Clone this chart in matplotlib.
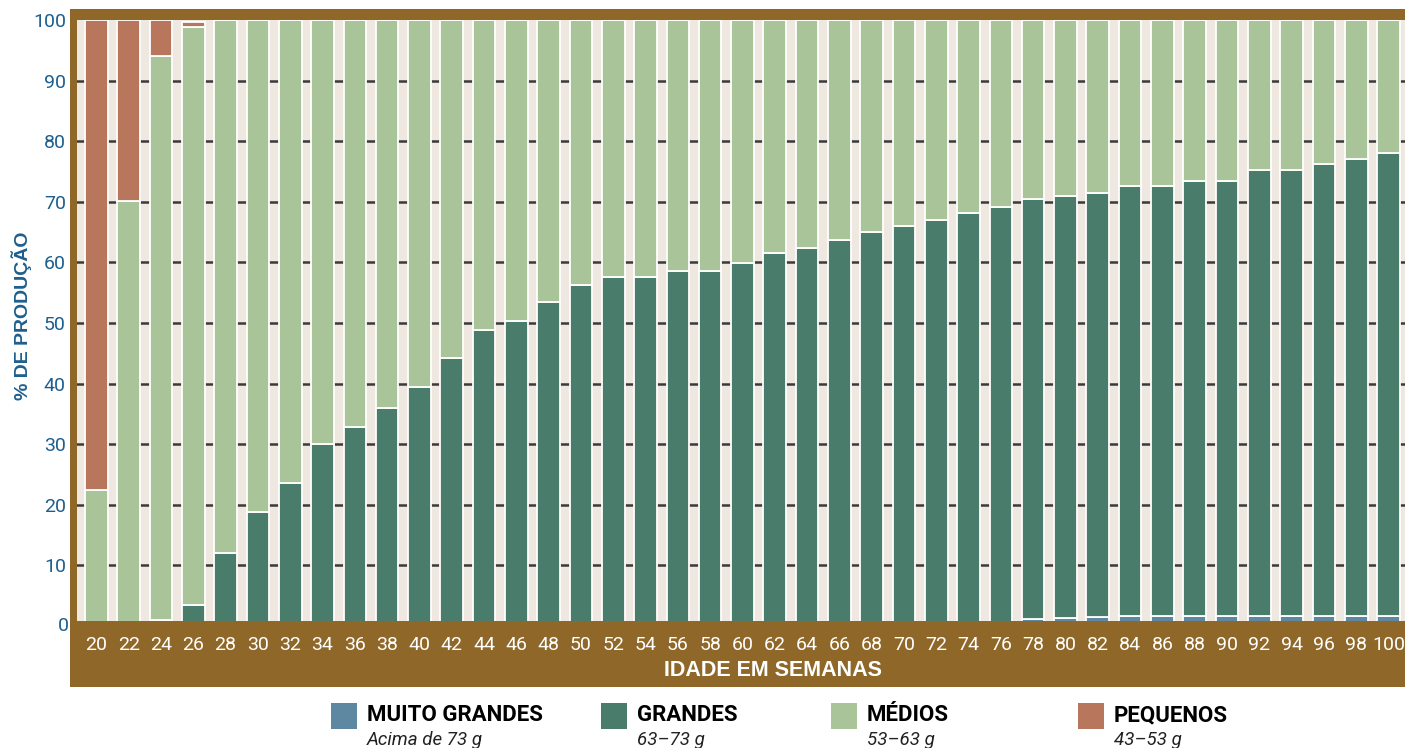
import matplotlib
matplotlib.use("Agg")
import matplotlib.pyplot as plt
from matplotlib.patches import Rectangle
from matplotlib import font_manager

names = {f.name for f in font_manager.fontManager.ttflist}
NARROW = 'Liberation Sans Narrow' if 'Liberation Sans Narrow' in names else 'Roboto'
BOLD = 'Liberation Sans'

weeks = [20, 22, 24, 26, 28, 30, 32, 34, 36, 38, 40, 42, 44, 46, 48, 50, 52, 54, 56, 58,
         60, 62, 64, 66, 68, 70, 72, 74, 76, 78, 80, 82, 84, 86, 88, 90, 92, 94, 96, 98, 100]
muito_grandes = [0]*29 + [1.1, 1.3, 1.5, 1.7, 1.7, 1.7, 1.7, 1.7, 1.7, 1.7, 1.7, 1.7]
grandes = [0, 0, 1.0, 3.4, 12.0, 18.8, 23.6, 30.0, 32.8, 36.0, 39.4, 44.2, 48.8, 50.3, 53.5,
           56.3, 57.6, 57.6, 58.6, 58.6, 59.9, 61.6, 62.4, 63.7, 65.0, 66.0, 67.0, 68.2, 69.1,
           69.4, 69.7, 70.0, 70.9, 70.9, 71.7, 71.7, 73.5, 73.5, 74.5, 75.4, 76.4]
medios = [22.4, 70.1, 93.0, 95.5, 88.0, 81.2, 76.4, 70.0, 67.2, 64.0, 60.6, 55.8, 51.2, 49.7,
          46.5, 43.7, 42.4, 42.4, 41.4, 41.4, 40.1, 38.4, 37.6, 36.3, 35.0, 34.0, 33.0, 31.8,
          30.9, 29.5, 29.0, 28.5, 27.4, 27.4, 26.6, 26.6, 24.8, 24.8, 23.8, 22.9, 21.9]
pequenos = [77.6, 29.9, 6.0, 0.7] + [0]*37

series_names = ['MUITO GRANDES', 'GRANDES', 'MÉDIOS', 'PEQUENOS']
series_sub = ['Acima de 73 g', '63–73 g', '53–63 g', '43–53 g']
colors = ['#5E87A2', '#4A7C6C', '#A8C498', '#B8775C']
yticks = [10, 20, 30, 40, 50, 60, 70, 80, 90, 100]

W, H = 1405, 748
fig = plt.figure(figsize=(W/100, H/100), dpi=100)
fig.patch.set_facecolor('white')

def fx(px):
    return px / W

def fy(py):
    return 1 - py / H

BROWN = '#8F6829'
BLUE = '#1D5F8E'

# brown frame
for (x0, y0, x1, y1) in [(70, 9, 1405, 20), (70, 9, 77, 687), (70, 621, 1405, 687)]:
    fig.patches.append(Rectangle((fx(x0), fy(y1)), fx(x1) - fx(x0), fy(y0) - fy(y1),
                                 transform=fig.transFigure, facecolor=BROWN,
                                 edgecolor='none', zorder=-5))

ax = fig.add_axes([fx(77), fy(621), fx(1405) - fx(77), fy(20) - fy(621)])
ax.set_facecolor('#EEE8E0')
for s in ax.spines.values():
    s.set_visible(False)

x = list(range(len(weeks)))
ax.set_xlim(-0.60, 40.51)
ax.set_ylim(0.83, 100)

for v in yticks[:-1]:
    ax.axhline(v, color='#3A3A3A', lw=1.8, zorder=1)

bottom = [0.0]*len(weeks)
for vals, col in zip([muito_grandes, grandes, medios, pequenos], colors):
    ax.bar(x, vals, width=0.70, bottom=bottom, color=col, edgecolor='white',
           linewidth=1.3, zorder=2)
    bottom = [b + v for b, v in zip(bottom, vals)]

ax.set_xticks(x)
ax.set_xticklabels([str(w) for w in weeks], color='white', fontsize=14, family=NARROW)
ax.tick_params(axis='x', length=0, pad=11)
ax.set_yticks(yticks)
ax.set_yticklabels([str(v) for v in yticks], color=BLUE, fontsize=14, family=NARROW)
ax.tick_params(axis='y', length=0, pad=8)
ax.text(-0.60 - 8/32.3, 0, '0', color=BLUE, fontsize=14, family=NARROW,
        ha='right', va='center', clip_on=False)

fig.text(fx(22), fy(316), '% DE PRODUÇÃO', rotation=90, color=BLUE, fontsize=14,
         fontweight='bold', family=BOLD, ha='center', va='center')
fig.text(fx(773), fy(671), 'IDADE EM SEMANAS', color='white', fontsize=15.5,
         fontweight='bold', family=BOLD, ha='center', va='center')

# legend
px_patch = [331, 601, 831, 1078]
for px, name, sub, col in zip(px_patch, series_names, series_sub, colors):
    fig.patches.append(Rectangle((fx(px), fy(729)), fx(26), 26/H, transform=fig.transFigure,
                                 facecolor=col, edgecolor='none'))
    fig.text(fx(px + 36), fy(715), name, color='black', fontsize=16, fontweight='bold',
             family=NARROW, ha='left', va='center')
    fig.text(fx(px + 36), fy(740), sub, color='#222222', fontsize=13.5, style='italic',
             family=NARROW, ha='left', va='center')

fig.savefig('out.png', dpi=100)
